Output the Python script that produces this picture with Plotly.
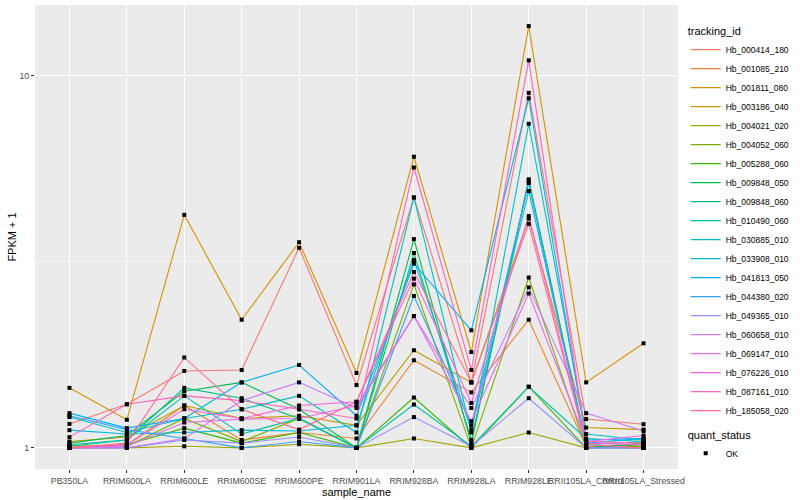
import plotly.graph_objects as go

samples = ["PB350LA", "RRIM600LA", "RRIM600LE", "RRIM600SE", "RRIM600PE", "RRIM901LA",
           "RRIM928BA", "RRIM928LA", "RRIM928LE", "RRII105LA_Control", "RRII105LA_Stressed"]

tracking_ids = ["Hb_000414_180", "Hb_001085_210", "Hb_001811_080", "Hb_003186_040", "Hb_004021_020",
                "Hb_004052_060", "Hb_005288_060", "Hb_009848_050", "Hb_009848_060", "Hb_010490_060",
                "Hb_030885_010", "Hb_033908_010", "Hb_041813_050", "Hb_044380_020", "Hb_049365_010",
                "Hb_060658_010", "Hb_069147_010", "Hb_076226_010", "Hb_087161_010", "Hb_185058_020"]

line_colors = ["#F8766D", "#EA8331", "#D89000", "#C09B00", "#A3A500", "#7CAE00", "#39B600", "#00BB4E",
               "#00BF7D", "#00C1A3", "#00BFC4", "#00BAE0", "#00B0F6", "#35A2FF", "#9590FF", "#C77CFF",
               "#E76BF3", "#FA62DB", "#FF62BC", "#FF6C91"]

# FPKM + 1 per sample (same order as samples)
hb_000414_180 = [1.16, 1.31, 1.61, 1.62, 3.45, 1.475, 4.71, 1.50, 9.00, 1.195, 1.158]
hb_001085_210 = [1.01, 1.02, 1.30, 1.05, 1.10, 1.06, 1.72, 1.41, 2.21, 1.01, 1.00]
hb_001811_080 = [1.45, 1.19, 4.23, 2.21, 3.57, 1.59, 6.06, 1.81, 13.6, 1.50, 1.91]
hb_003186_040 = [1.04, 1.07, 1.30, 1.20, 1.22, 1.15, 1.83, 1.50, 4.13, 1.134, 1.12]
hb_004021_020 = [1.00, 1.00, 1.01, 1.00, 1.023, 1.00, 1.06, 1.00, 1.10, 1.00, 1.00]
hb_004052_060 = [1.00, 1.01, 1.20, 1.04, 1.20, 1.00, 2.75, 1.00, 2.87, 1.00, 1.01]
hb_005288_060 = [1.00, 1.02, 1.13, 1.03, 1.10, 1.00, 1.366, 1.00, 1.46, 1.00, 1.02]
hb_009848_050 = [1.03, 1.08, 1.42, 1.50, 1.27, 1.00, 3.64, 1.03, 5.27, 1.00, 1.03]
hb_009848_060 = [1.01, 1.05, 1.45, 1.36, 1.20, 1.00, 3.34, 1.05, 5.20, 1.02, 1.04]
hb_010490_060 = [1.02, 1.05, 1.38, 1.09, 1.20, 1.00, 1.308, 1.01, 1.46, 1.06, 1.04]
hb_030885_010 = [1.21, 1.10, 1.20, 1.27, 1.38, 1.10, 4.71, 1.10, 7.43, 1.09, 1.05]
hb_033908_010 = [1.116, 1.09, 1.10, 1.116, 1.11, 1.15, 3.20, 1.12, 4.90, 1.03, 1.06]
hb_041813_050 = [1.24, 1.13, 1.20, 1.50, 1.67, 1.22, 3.13, 2.07, 8.70, 1.05, 1.06]
hb_044380_020 = [1.22, 1.12, 1.06, 1.00, 1.04, 1.00, 2.56, 1.15, 5.15, 1.00, 1.00]
hb_049365_010 = [1.00, 1.00, 1.05, 1.03, 1.07, 1.00, 1.21, 1.01, 1.36, 1.00, 1.00]
hb_060658_010 = [1.00, 1.00, 1.06, 1.34, 1.50, 1.28, 2.26, 1.28, 2.70, 1.24, 1.11]
hb_069147_010 = [1.00, 1.01, 1.17, 1.195, 1.20, 1.30, 2.26, 1.18, 2.60, 1.04, 1.08]
hb_076226_010 = [1.00, 1.02, 1.27, 1.20, 1.30, 1.33, 2.85, 1.32, 4.20, 1.03, 1.02]
hb_087161_010 = [1.069, 1.31, 1.38, 1.34, 1.27, 1.20, 5.67, 1.62, 11.0, 1.04, 1.03]
hb_185058_020 = [1.00, 1.03, 1.75, 1.27, 1.12, 1.33, 2.97, 1.50, 4.00, 1.02, 1.00]

series_values = [hb_000414_180, hb_001085_210, hb_001811_080, hb_003186_040, hb_004021_020,
                 hb_004052_060, hb_005288_060, hb_009848_050, hb_009848_060, hb_010490_060,
                 hb_030885_010, hb_033908_010, hb_041813_050, hb_044380_020, hb_049365_010,
                 hb_060658_010, hb_069147_010, hb_076226_010, hb_087161_010, hb_185058_020]

quant_status = ["OK"]

FONT = "Liberation Sans"
fig = go.Figure()

for name, vals, col in zip(tracking_ids, series_values, line_colors):
    fig.add_trace(go.Scatter(x=samples, y=vals, mode="lines", name=name,
                             line=dict(color=col, width=1.1), legend="legend"))

all_x = [s for vals in series_values for s in samples]
all_y = [v for vals in series_values for v in vals]
fig.add_trace(go.Scatter(x=all_x, y=all_y, mode="markers", name=quant_status[0],
                         marker=dict(symbol="square", size=4, color="black"),
                         legend="legend2"))

fig.update_layout(
    width=800, height=500,
    margin=dict(l=35, r=116, t=5, b=31),
    paper_bgcolor="white", plot_bgcolor="#EBEBEB",
    font=dict(family=FONT, color="black"),
    showlegend=True,
    xaxis=dict(type="category", categoryorder="array", categoryarray=samples,
               range=[-0.6, 10.6], showgrid=True, gridcolor="white", gridwidth=1.1,
               zeroline=False, ticks="outside", ticklen=3, tickcolor="#333333", tickwidth=1,
               tickangle=0, tickfont=dict(size=8.8, color="#4D4D4D", family=FONT),
               title=dict(text="sample_name", font=dict(size=11, family=FONT), standoff=0),
               showline=False, automargin=False),
    yaxis=dict(type="log", range=[-0.0567, 1.1902], tickmode="array", tickvals=[1, 10],
               ticktext=["1", "10"], showgrid=True, gridcolor="white", gridwidth=1.1,
               zeroline=False, ticks="outside", ticklen=3, tickcolor="#333333", tickwidth=1,
               tickfont=dict(size=8.8, color="#4D4D4D", family=FONT),
               minor=dict(tickmode="array", tickvals=[10 ** 0.5], showgrid=True,
                          gridcolor="#F5F5F5", gridwidth=0.6, ticks=""),
               title=dict(text="FPKM + 1", font=dict(size=11, family=FONT), standoff=0),
               showline=False, automargin=False),
    legend=dict(title=dict(text="tracking_id", font=dict(size=11, family=FONT)),
                font=dict(size=8.5, family=FONT), x=1.012, xanchor="left", y=0.966, yanchor="top",
                bgcolor="white", tracegroupgap=0, itemwidth=30),
    legend2=dict(title=dict(text="quant_status", font=dict(size=11, family=FONT)),
                 font=dict(size=8.5, family=FONT), x=1.012, xanchor="left", y=0.096, yanchor="top",
                 bgcolor="white", itemwidth=30),
)

fig.write_html("out.html", config={"displayModeBar": False},
               post_script="document.body.style.margin='0';")
